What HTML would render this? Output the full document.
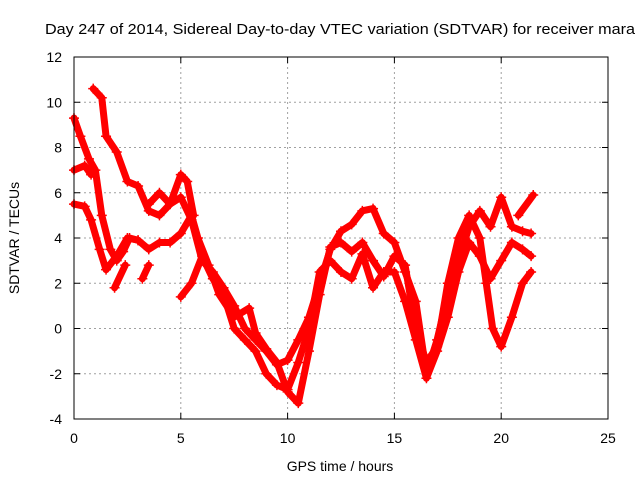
<!DOCTYPE html>
<html><head><meta charset="utf-8"><style>
body{margin:0;background:#fff;}
svg{display:block;font-family:"Liberation Sans",sans-serif;}
</style></head><body>
<svg id="chart" width="640" height="480">
<text x="45" y="34" font-size="14.5" textLength="590" lengthAdjust="spacingAndGlyphs">Day 247 of 2014, Sidereal Day-to-day VTEC variation (SDTVAR) for receiver mara</text>
<text x="340" y="471" font-size="14" text-anchor="middle">GPS time / hours</text>
<text transform="translate(19,238) rotate(-90)" font-size="14" text-anchor="middle">SDTVAR / TECUs</text>
<g id="grid"></g><g id="ticks"></g><g id="marks"></g>
<rect x="74" y="57" width="534" height="362" fill="none" stroke="#000" stroke-width="1"/>
</svg>
<script>
const xTicks=[0,5,10,15,20,25];
const yTicks=[-4,-2,0,2,4,6,8,10,12];
const trackA=[[0.9,10.6],[1.3,10.2],[1.5,8.5],[2,7.8],[2.5,6.5],[3,6.3],[3.5,5.2],[4,5],[4.5,5.5],[5,5.8],[5.5,4.8],[6,3],[6.5,2.5],[7,1.8],[7.5,1],[8,0],[8.5,-0.5],[9,-1],[9.5,-1.6],[10,-1.4],[10.5,-0.5],[11,0.5],[11.5,2],[12,3.5],[12.5,4.3],[13,4.6],[13.5,5.2],[14,5.3],[14.5,4.2],[15,3.8],[15.5,2.5],[16,1.2],[16.5,-2],[17,-0.5],[17.5,1.5],[18,3],[18.5,4.5],[19,5.2],[19.5,4.5],[20,5.8],[20.5,4.5],[21,4.3],[21.4,4.2]];
const trackB=[[0,9.3],[0.3,8.5],[0.7,7.5],[1,7],[1.3,5],[1.7,3.5],[2,3],[2.3,3.4],[2.6,4],[3,3.9],[3.5,3.5],[4,3.8],[4.5,3.8],[5,4.2],[5.5,5],[5.8,4],[6.3,2.8],[6.8,1.5],[7.5,0.5],[8.2,0.9],[8.5,-0.2],[9,-0.9],[9.5,-1.5],[10,-2.8],[10.5,-3.3],[11,-1],[11.5,1.5],[12,3.6],[12.5,3.8],[13,3.4],[13.5,3.8],[14,3],[14.5,2.3],[15,3.2],[15.5,2.8],[16,0],[16.5,-1.5],[17,-0.8],[17.5,2],[18,4],[18.5,5],[19,4],[19.3,2],[19.6,0],[20,-0.8],[20.5,0.5],[21,2],[21.4,2.5]];
const trackC1=[[0,5.5],[0.5,5.4],[0.8,4.8],[1.2,3.5],[1.5,2.6],[2,3.2],[2.5,4],[3,3.9]];
const trackC2=[[5,1.4],[5.5,2],[6,3.2],[6.5,2.2],[7,1.5],[7.5,0],[8,-0.5],[8.5,-1],[9,-2],[9.5,-2.5],[10,-2.7],[10.5,-1.5],[11,0],[11.5,2.5],[12,3],[12.5,2.5],[13,2.2],[13.5,3.3],[14,1.8],[14.5,2.5],[15,2.5],[15.5,1.2],[16,-0.5],[16.5,-2.2],[17,-1],[17.5,0.5],[18,2.5],[18.5,3.8],[19,3.2],[19.5,2.2],[20,3],[20.5,3.8],[21,3.5],[21.4,3.2]];
const trackD=[[0,7],[0.5,7.2],[0.8,6.8]];
const trackE=[[3.5,5.5],[4,6],[4.5,5.5],[5,6.8],[5.3,6.5],[5.6,5]];
const trackF=[[20.8,5],[21.5,5.9]];
const trackG=[[1.9,1.8],[2.4,2.8]];
const trackH=[[3.2,2.2],[3.5,2.8]];
const tracks=[trackA,trackB,trackC1,trackC2,trackD,trackE,trackF,trackG,trackH];
const NS="http://www.w3.org/2000/svg";
const X=t=>74+t*534/25, Y=v=>57+(12-v)*362/16;
function mk(tag,attrs,parent){const e=document.createElementNS(NS,tag);for(const k in attrs)e.setAttribute(k,attrs[k]);parent.appendChild(e);return e;}
const grid=document.getElementById('grid'),ticks=document.getElementById('ticks'),marks=document.getElementById('marks');
xTicks.forEach(t=>{
 if(t>0&&t<25){const g=mk('line',{x1:X(t),x2:X(t),y1:57,y2:419,stroke:'#a0a0a0','stroke-dasharray':'2,3'},grid);
 
 }
 mk('line',{x1:X(t),x2:X(t),y1:419,y2:413,stroke:'#000'},ticks);
 mk('line',{x1:X(t),x2:X(t),y1:57,y2:63,stroke:'#000'},ticks);
 const l=mk('text',{x:X(t),y:443,'font-size':14,'text-anchor':'middle'},ticks);l.textContent=t;
 
 
});
yTicks.forEach(v=>{
 if(v>-4&&v<12){const g=mk('line',{x1:74,x2:608,y1:Y(v),y2:Y(v),stroke:'#a0a0a0','stroke-dasharray':'2,3'},grid);
 
 }
 mk('line',{x1:74,x2:80,y1:Y(v),y2:Y(v),stroke:'#000'},ticks);
 mk('line',{x1:608,x2:602,y1:Y(v),y2:Y(v),stroke:'#000'},ticks);
 const l=mk('text',{x:62,y:Y(v)+5,'font-size':14,'text-anchor':'end'},ticks);l.textContent=v;
 
 
});
tracks.forEach(tr=>{
 const p=mk('polyline',{points:tr.map(d=>X(d[0])+','+Y(d[1])).join(' '),fill:'none',stroke:'#ff0000','stroke-width':7,'stroke-linejoin':'round','stroke-linecap':'round'},marks);
 
 
 tr.forEach(d=>{
  const x=X(d[0]),y=Y(d[1]);
  const m=mk('path',{d:`M${x-5},${y}h10M${x},${y-5}v10`,stroke:'#ff0000','stroke-width':1.5},marks);
  
  
 });
});
</script>
</body></html>
